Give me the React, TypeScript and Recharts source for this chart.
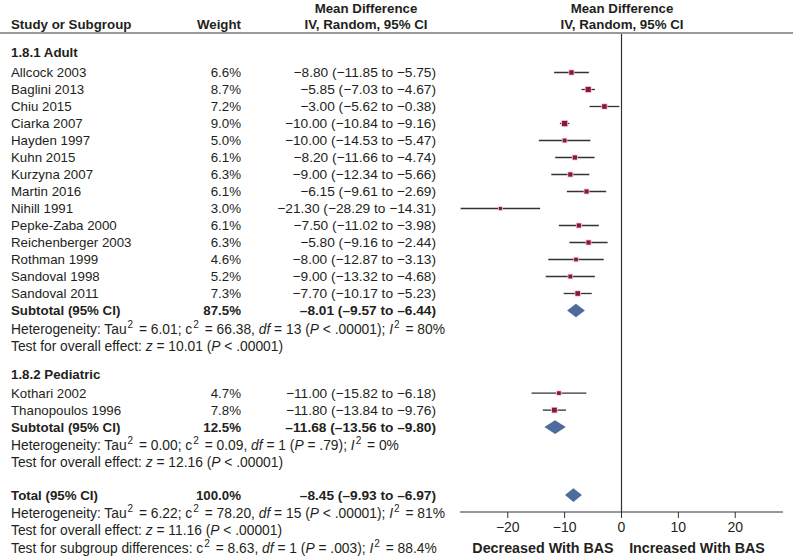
import React from 'react';
import { ComposedChart, Scatter, ErrorBar, XAxis, YAxis, ReferenceLine, ReferenceArea } from 'recharts';

// ---- data ----
const adultStudies = [
  'Allcock 2003', 'Baglini 2013', 'Chiu 2015', 'Ciarka 2007', 'Hayden 1997', 'Kuhn 2015', 'Kurzyna 2007',
  'Martin 2016', 'Nihill 1991', 'Pepke-Zaba 2000', 'Reichenberger 2003', 'Rothman 1999', 'Sandoval 1998', 'Sandoval 2011',
];
const adultWeights = [6.6, 8.7, 7.2, 9.0, 5.0, 6.1, 6.3, 6.1, 3.0, 6.1, 6.3, 4.6, 5.2, 7.3];
const adultMean = [-8.8, -5.85, -3.0, -10.0, -10.0, -8.2, -9.0, -6.15, -21.3, -7.5, -5.8, -8.0, -9.0, -7.7];
const adultLow = [-11.85, -7.03, -5.62, -10.84, -14.53, -11.66, -12.34, -9.61, -28.29, -11.02, -9.16, -12.87, -13.32, -10.17];
const adultHigh = [-5.75, -4.67, -0.38, -9.16, -5.47, -4.74, -5.66, -2.69, -14.31, -3.98, -2.44, -3.13, -4.68, -5.23];

const pedStudies = ['Kothari 2002', 'Thanopoulos 1996'];
const pedWeights = [4.7, 7.8];
const pedMean = [-11.0, -11.8];
const pedLow = [-15.82, -13.84];
const pedHigh = [-6.18, -9.76];

const pooledLabels = ['Subtotal (95% CI)', 'Subtotal (95% CI)', 'Total (95% CI)'];
const pooledWeights = [87.5, 12.5, 100.0];
const pooledMean = [-8.01, -11.68, -8.45];
const pooledLow = [-9.57, -13.56, -9.93];
const pooledHigh = [-6.44, -9.8, -6.97];

// ^x^ = superscript, _x_ = italic
const adultNotes = [
  'Heterogeneity: Tau^2^ = 6.01; c^2^ = 66.38, _df_ = 13 (_P_ < .00001); _I_^2^ = 80%',
  'Test for overall effect: _z_ = 10.01 (_P_ < .00001)',
];
const pedNotes = [
  'Heterogeneity: Tau^2^ = 0.00; c^2^ = 0.09, _df_ = 1 (_P_ = .79); _I_^2^ = 0%',
  'Test for overall effect: _z_ = 12.16 (_P_ < .00001)',
];
const totalNotes = [
  'Heterogeneity: Tau^2^ = 6.22; c^2^ = 78.20, _df_ = 15 (_P_ < .00001); _I_^2^ = 81%',
  'Test for overall effect: _z_ = 11.16 (_P_ < .00001)',
  'Test for subgroup differences: c^2^ = 8.63, _df_ = 1 (_P_ = .003); _I_^2^ = 88.4%',
];

const xTicks = [-20, -10, 0, 10, 20];

// ---- layout ----
const W = 793;
const H = 556;
const PLOT_LEFT = 460;
const PLOT_RIGHT = 783;
const PLOT_TOP = 33;
const PLOT_BOTTOM = 512;
const ROW_PX = 17;
const FIRST_ROW_PX = 72.5;
const FONT = '"Liberation Sans", Arial, Helvetica, sans-serif';
const INK = '#231f20';

const yDomain = [1 - (FIRST_ROW_PX - PLOT_TOP) / ROW_PX, 1 + (PLOT_BOTTOM - FIRST_ROW_PX) / ROW_PX];
const rowY = (r: number) => FIRST_ROW_PX + (r - 1) * ROW_PX;

type Row = {
  r: number;
  kind: 'group' | 'study' | 'pooled' | 'note';
  label: string;
  weight?: number;
  mean?: number;
  low?: number;
  high?: number;
};

const rows: Row[] = [];
let cur = -0.15;
const add = (row: Omit<Row, 'r'>, step: number) => {
  cur += step;
  rows.push({ ...row, r: cur });
};

add({ kind: 'group', label: '1.8.1 Adult' }, 0);
adultStudies.forEach((s, i) =>
  add({ kind: 'study', label: s, weight: adultWeights[i], mean: adultMean[i], low: adultLow[i], high: adultHigh[i] }, i === 0 ? 1.15 : 1)
);
add({ kind: 'pooled', label: pooledLabels[0], weight: pooledWeights[0], mean: pooledMean[0], low: pooledLow[0], high: pooledHigh[0] }, 1);
adultNotes.forEach((n, i) => add({ kind: 'note', label: n }, i === 0 ? 1.07 : 1));
add({ kind: 'group', label: '1.8.2 Pediatric' }, 1.69);
pedStudies.forEach((s, i) =>
  add({ kind: 'study', label: s, weight: pedWeights[i], mean: pedMean[i], low: pedLow[i], high: pedHigh[i] }, i === 0 ? 1.1 : 1)
);
add({ kind: 'pooled', label: pooledLabels[1], weight: pooledWeights[1], mean: pooledMean[1], low: pooledLow[1], high: pooledHigh[1] }, 1);
pedNotes.forEach((n, i) => add({ kind: 'note', label: n }, i === 0 ? 1.05 : 1));
add({ kind: 'pooled', label: pooledLabels[2], weight: pooledWeights[2], mean: pooledMean[2], low: pooledLow[2], high: pooledHigh[2] }, 1.95);
totalNotes.forEach((n, i) => add({ kind: 'note', label: n }, i === 0 ? 1.05 : 1.02));

const studyPoints = rows
  .filter((d) => d.kind === 'study')
  .map((d) => ({ x: d.mean!, y: d.r, w: d.weight!, err: [d.mean! - d.low!, d.high! - d.mean!] }));
const pooledRows = rows.filter((d) => d.kind === 'pooled');

const fmt = (v: number, dash: string) => (v < 0 ? dash + Math.abs(v).toFixed(2) : v.toFixed(2));
const ciText = (m: number, l: number, h: number, dash: string) => `${fmt(m, dash)} (${fmt(l, dash)} to ${fmt(h, dash)})`;

const RichText = ({ x, y, text }: { x: number; y: number; text: string }) => {
  const parts = text.split(/(\^[^^]+\^|_[^_]+_)/).filter((p) => p.length > 0);
  let raised = false;
  return (
    <text x={x} y={y} dominantBaseline="central" fontSize={13.8} fill={INK} fontFamily={FONT}>
      {parts.map((p, i) => {
        if (p.startsWith('^')) {
          raised = true;
          return (
            <tspan key={i} dx={1} dy={-4.5} fontSize={10}>
              {p.slice(1, -1)}
            </tspan>
          );
        }
        const dy = raised ? 4.5 : undefined;
        const dx = raised ? 2 : undefined;
        raised = false;
        if (p.startsWith('_')) {
          return (
            <tspan key={i} dx={dx} dy={dy} fontStyle="italic">
              {p.slice(1, -1)}
            </tspan>
          );
        }
        return (
          <tspan key={i} dx={dx} dy={dy}>
            {p}
          </tspan>
        );
      })}
    </text>
  );
};

const StudySquare = (props: any) => {
  const { cx, cy, payload } = props;
  const s = 2 + 0.36 * payload.w;
  return (
    <g>
      <rect x={cx - s / 2 - 0.8} y={cy - s / 2 - 0.8} width={s + 1.6} height={s + 1.6} fill="#eec9d5" />
      <rect x={cx - s / 2} y={cy - s / 2} width={s} height={s} fill="#8c1538" />
    </g>
  );
};

const Diamond = (props: any) => {
  const { x, y, width, height } = props;
  const pts = `${x},${y + height / 2} ${x + width / 2},${y} ${x + width},${y + height / 2} ${x + width / 2},${y + height}`;
  return <polygon points={pts} fill="#4d6c9c" />;
};

const Head = ({ x, y, anchor, children }: { x: number; y: number; anchor: 'start' | 'middle' | 'end'; children: string }) => (
  <text x={x} y={y} textAnchor={anchor} dominantBaseline="central" fontSize={13.3} fontWeight="bold" fill={INK} fontFamily={FONT}>
    {children}
  </text>
);

const Labels = () => (
  <svg width={W} height={H} style={{ position: 'absolute', left: 0, top: 0, pointerEvents: 'none' }}>
    <Head x={366} y={8} anchor="middle">Mean Difference</Head>
    <Head x={366} y={24} anchor="middle">IV, Random, 95% CI</Head>
    <Head x={622} y={8} anchor="middle">Mean Difference</Head>
    <Head x={622} y={24} anchor="middle">IV, Random, 95% CI</Head>
    <Head x={11} y={24} anchor="start">Study or Subgroup</Head>
    <Head x={241} y={24} anchor="end">Weight</Head>
    <line x1={0} x2={W} y1={PLOT_TOP} y2={PLOT_TOP} stroke="#9a9a9a" strokeWidth={2} />

    {rows.map((d, i) => {
      const y = rowY(d.r);
      if (d.kind === 'note') return <RichText key={i} x={11} y={y} text={d.label} />;
      const bold = d.kind !== 'study';
      return (
        <g key={i} fontSize={13.3} fill={INK} fontFamily={FONT} fontWeight={bold ? 'bold' : 'normal'}>
          <text x={11} y={y} dominantBaseline="central">
            {d.label}
          </text>
          {d.weight !== undefined && (
            <text x={241} y={y} textAnchor="end" dominantBaseline="central">
              {d.weight.toFixed(1)}%
            </text>
          )}
          {d.mean !== undefined && (
            <text x={436} y={y} textAnchor="end" dominantBaseline="central" fontSize={13.7}>
              {ciText(d.mean, d.low!, d.high!, bold ? '\u2013' : '\u2212')}
            </text>
          )}
        </g>
      );
    })}

    <text x={543} y={548} textAnchor="middle" dominantBaseline="central" fontSize={14.3} fontWeight="bold" fill={INK} fontFamily={FONT}>
      Decreased With BAS
    </text>
    <text x={697} y={548} textAnchor="middle" dominantBaseline="central" fontSize={14.3} fontWeight="bold" fill={INK} fontFamily={FONT}>
      Increased With BAS
    </text>
  </svg>
);

const App = () => (
  <div style={{ position: 'absolute', left: 0, top: 0, width: W, height: H, background: '#fff' }}>
    <ComposedChart
      width={W}
      height={H}
      margin={{ top: PLOT_TOP, right: W - PLOT_RIGHT, bottom: H - PLOT_BOTTOM - 30, left: PLOT_LEFT }}
    >
      <XAxis
        type="number"
        dataKey="x"
        domain={[-28.4, 28.4]}
        ticks={xTicks}
        allowDataOverflow
        height={30}
        axisLine={{ stroke: '#333', strokeWidth: 1 }}
        tickLine={{ stroke: '#333' }}
        tickSize={6}
        tickMargin={4}
        tick={{ fontSize: 14, fill: INK, fontFamily: FONT }}
        tickFormatter={(v: number) => String(v).replace('-', '\u2212')}
      />
      <YAxis type="number" dataKey="y" domain={yDomain} reversed hide width={0} allowDataOverflow />
      <ReferenceLine x={0} stroke="#333" strokeWidth={1.2} />
      {pooledRows.map((d, i) => (
        <ReferenceArea
          key={i}
          x1={d.low}
          x2={d.high}
          y1={d.r - 0.4}
          y2={d.r + 0.4}
          ifOverflow="visible"
          shape={<Diamond />}
        />
      ))}
      <Scatter data={studyPoints} shape={<StudySquare />} isAnimationActive={false}>
        <ErrorBar dataKey="err" direction="x" width={0} stroke="#333" strokeWidth={1.3} />
      </Scatter>
    </ComposedChart>
    <Labels />
  </div>
);

export default App;
